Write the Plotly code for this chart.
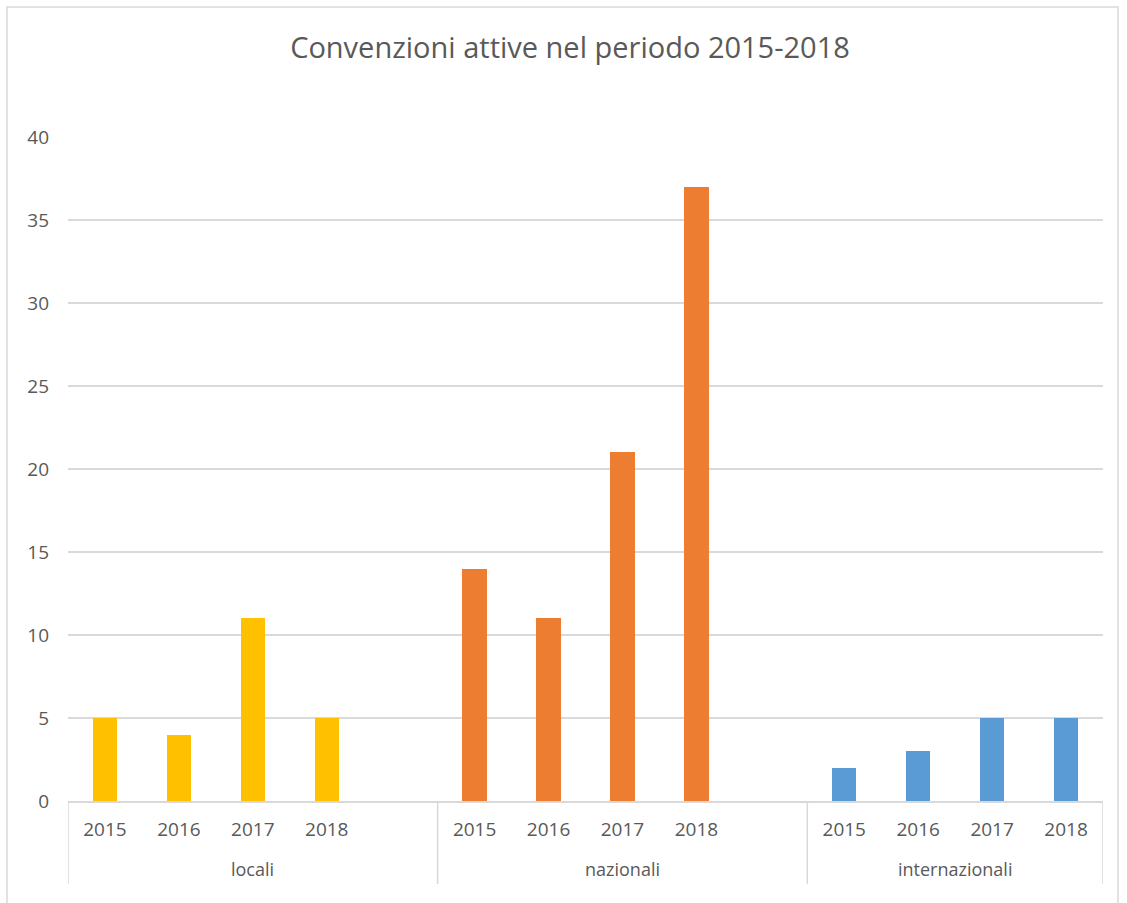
import plotly.graph_objects as go

# ---- data ----
groups = ["locali", "nazionali", "internazionali"]
years = ["2015", "2016", "2017", "2018"]
locali = [5, 4, 11, 5]
nazionali = [14, 11, 21, 37]
internazionali = [2, 3, 5, 5]
colors = ["#FFC000", "#ED7D31", "#5B9BD5"]
y_ticks = [0, 5, 10, 15, 20, 25, 30, 35, 40]

series = [locali, nazionali, internazionali]

W, H = 1127, 903
ml, mr, mt, mb = 68, 24, 137, 102
pw, ph = W - ml - mr, H - mt - mb

def px_x(p):
    return (p - ml) / pw

def px_y(p):
    return (H - mb - p) / ph

fig = go.Figure()
tickvals, ticktext = [], []
group_bounds = []
pos = 0
for gi, (g, vals) in enumerate(zip(groups, series)):
    start = pos
    xs = [pos + i for i in range(len(years))]
    fig.add_trace(go.Bar(
        x=xs, y=vals, width=0.33, name=g,
        marker=dict(color=colors[gi], line=dict(width=0)),
        showlegend=False, hoverinfo="y",
    ))
    tickvals += xs
    ticktext += years
    pos += len(years)
    if gi < len(groups) - 1:
        pos += 1  # empty slot
    group_bounds.append((start - 0.5, pos - 0.5))

xmax = pos - 0.5
font_family = "'Open Sans', sans-serif"
grey = "#595959"

shapes = []
annotations = []
edges = sorted(set([b for gb in group_bounds for b in gb]))
for e in edges:
    shapes.append(dict(type="line", xref="x", yref="paper", x0=e, x1=e,
                       y0=0, y1=px_y(884), line=dict(color="#D9D9D9", width=1.5)))
for (a, b), g in zip(group_bounds, groups):
    annotations.append(dict(xref="x", yref="paper", x=(a + b) / 2, y=px_y(869),
                            text=g, showarrow=False, yanchor="middle",
                            font=dict(family=font_family, size=18, color=grey)))
# outer chart border
shapes.append(dict(type="rect", xref="paper", yref="paper",
                   x0=px_x(7), x1=px_x(1118), y0=px_y(906), y1=px_y(7),
                   line=dict(color="#D9D9D9", width=1.5), layer="below"))

fig.update_layout(
    width=W, height=H,
    margin=dict(l=ml, r=mr, t=mt, b=mb),
    paper_bgcolor="white", plot_bgcolor="white",
    title=dict(text="Convenzioni attive nel periodo 2015-2018",
               x=570 / W, xref="container", xanchor="center",
               y=1 - 48 / H, yref="container", yanchor="middle",
               font=dict(family=font_family, size=29, color=grey)),
    xaxis=dict(range=[-0.5, xmax], tickvals=tickvals, ticktext=ticktext,
               showgrid=False, zeroline=False, showline=True,
               linecolor="#D9D9D9", linewidth=1.5, ticks="",
               ticklabelstandoff=10,
               tickfont=dict(family=font_family, size=19, color=grey)),
    yaxis=dict(range=[0, 40], tickvals=y_ticks, showgrid=True,
               gridcolor="#D9D9D9", gridwidth=1.5, zeroline=False,
               showline=False, ticks="", ticklabelstandoff=18,
               tickfont=dict(family=font_family, size=19, color=grey)),
    shapes=shapes, annotations=annotations, bargap=0,
)

fig.write_html("out.html")
